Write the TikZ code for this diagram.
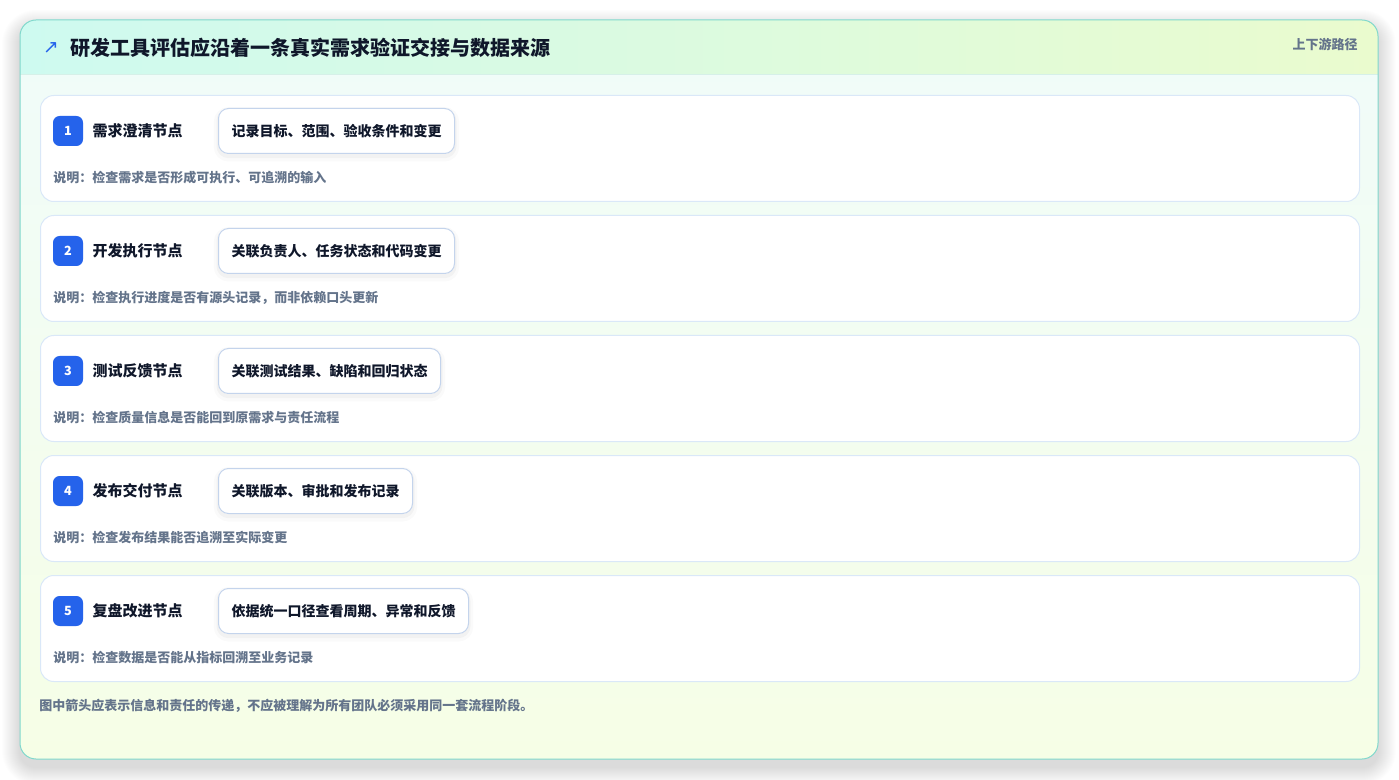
\documentclass[tikz,border=0pt]{standalone}
\usepackage{fontspec}
\setmainfont{Noto Sans CJK SC}
\newfontfamily\symfont{DejaVu Sans}
\usetikzlibrary{positioning}

\definecolor{frameline}{RGB}{128,216,204}
\definecolor{hdrleft}{RGB}{206,250,240}
\definecolor{hdrright}{RGB}{234,251,206}
\definecolor{hdrline}{RGB}{214,240,232}
\definecolor{bodytop}{RGB}{240,252,250}
\definecolor{bodybottom}{RGB}{246,254,230}
\definecolor{cardline}{RGB}{218,232,248}
\definecolor{pillline}{RGB}{196,212,236}
\definecolor{badgeblue}{RGB}{37,99,235}
\definecolor{ink}{RGB}{15,23,42}
\definecolor{muted}{RGB}{100,116,139}

\tikzstyle{card} = [draw=cardline, fill=white, line width=0.75pt, rounded corners=10pt,
  minimum width=989.25pt, minimum height=79.5pt, anchor=north west, inner sep=0]
\tikzstyle{badge} = [fill=badgeblue, rounded corners=5pt, minimum size=22.5pt, inner sep=0,
  text=white, font=\fontsize{9.5pt}{11pt}\bfseries]
\tikzstyle{stage} = [inner sep=0, text=ink, font=\fontsize{11.25pt}{13pt}\bfseries]
\tikzstyle{pill} = [draw=pillline, fill=white, line width=0.75pt, rounded corners=7.5pt,
  minimum height=33.75pt, inner xsep=9.75pt, anchor=west, text=ink,
  font=\fontsize{10.5pt}{12pt}\bfseries,
  preaction={draw=black, draw opacity=0.02, line width=7pt, transform canvas={yshift=-2.5pt}},
  preaction={draw=black, draw opacity=0.03, line width=3pt, transform canvas={yshift=-2pt}}]
\tikzstyle{note} = [inner sep=0, anchor=west, text=muted, font=\fontsize{9.75pt}{11pt}\bfseries]

\begin{document}
\begin{tikzpicture}[x=0.75pt, y=-0.75pt]
  \useasboundingbox (0,0) rectangle (1399,780);
  \fill[white] (0,0) rectangle (1399,780);
  % soft shadow of the frame
  \foreach \s in {1,2,...,18}
    \fill[black, opacity=0.006, rounded corners=12pt+0.75*\s pt]
      (20-\s,20-\s+8) rectangle (1378+\s,759+\s+8);
  % outer frame
  \begin{scope}
    \clip[rounded corners=12pt] (20,20) rectangle (1378,759);
    \shade[top color=bodytop, bottom color=bodybottom] (20,20) rectangle (1378,759);
    \shade[left color=hdrleft, right color=hdrright] (20,20) rectangle (1378,75);
    \draw[hdrline, line width=0.75pt] (20,75) -- (1378,75);
  \end{scope}
  \draw[frameline, line width=0.75pt, rounded corners=12pt] (20,20) rectangle (1378,759);

  % header
  \node[anchor=west, inner sep=0, text=ink, font=\fontsize{15pt}{18pt}\bfseries] (title) at (70,48)
    {研发工具评估应沿着一条真实需求验证交接与数据来源};
  \node[inner sep=0, text=badgeblue, font=\symfont\fontsize{14pt}{16pt}\selectfont] (arrow) at (51,48) {↗};
  \node[anchor=east, inner sep=0, text=muted, font=\fontsize{9.75pt}{11pt}\bfseries] (route) at (1358,44)
    {上下游路径};

  % stages
  \foreach \n/\stagename/\tool/\desc in {
    1/需求澄清节点/记录目标、范围、验收条件和变更/检查需求是否形成可执行、可追溯的输入,
    2/开发执行节点/关联负责人、任务状态和代码变更/检查执行进度是否有源头记录，而非依赖口头更新,
    3/测试反馈节点/关联测试结果、缺陷和回归状态/检查质量信息是否能回到原需求与责任流程,
    4/发布交付节点/关联版本、审批和发布记录/检查发布结果能否追溯至实际变更,
    5/复盘改进节点/依据统一口径查看周期、异常和反馈/检查数据是否能从指标回溯至业务记录}
  {
    \pgfmathsetmacro{\ytop}{95+120*(\n-1)}
    \node[card] (card\n) at (40,\ytop) {};
    \node[badge] (badge\n) at (68,\ytop+36) {\n};
    \node[stage, right=6.75pt of badge\n] (stage\n) {\stagename};
    \node[pill] (tool\n) at (218,\ytop+36) {\tool};
    \node[note] (note\n) at (53,\ytop+83) {说明：\desc};
  }

  % footer
  \node[note] (footnote) at (39,706)
    {图中箭头应表示信息和责任的传递，不应被理解为所有团队必须采用同一套流程阶段。};
\end{tikzpicture}
\end{document}
